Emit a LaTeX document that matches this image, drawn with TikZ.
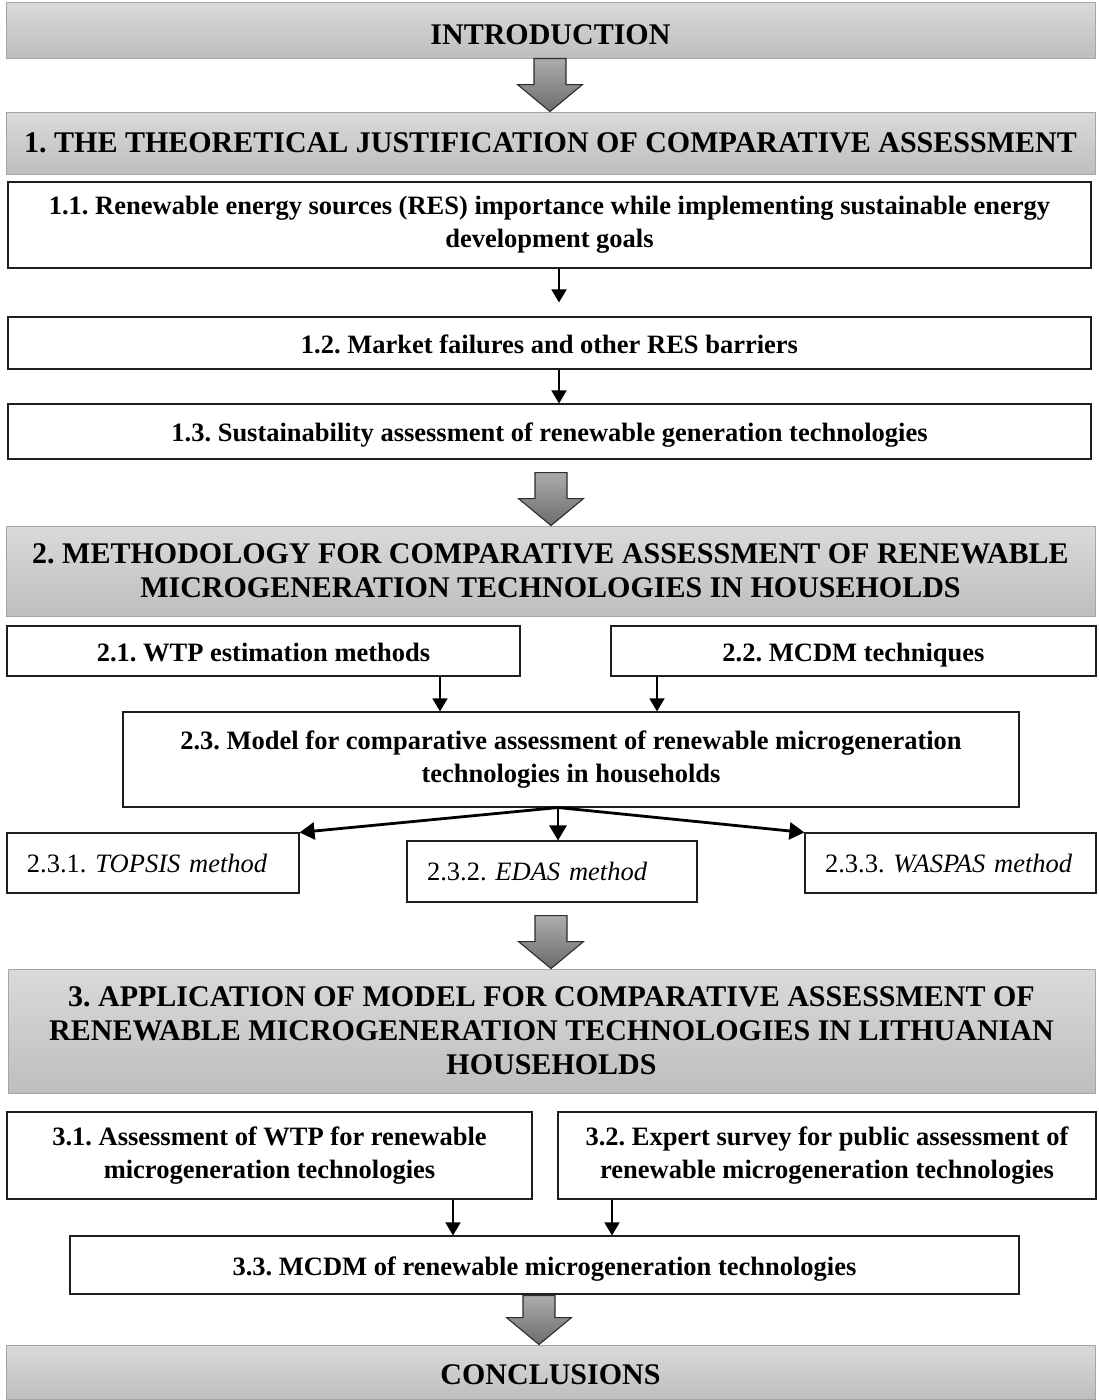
\documentclass[tikz,border=0pt]{standalone}
\usepackage{fontspec}
\setmainfont{Liberation Serif}
\usetikzlibrary{arrows.meta,calc}
\definecolor{hdtop}{RGB}{218,218,218}
\definecolor{hdbot}{RGB}{190,190,190}
\definecolor{hdline}{RGB}{165,165,165}
\definecolor{fattop}{RGB}{172,172,172}
\definecolor{fatbot}{RGB}{108,108,108}
\definecolor{fatline}{RGB}{45,45,45}
\definecolor{boxline}{RGB}{30,30,30}
\newcommand{\fatarr}[4]{%
  \path[fatarrow] let \p1=(#1.south), \p2=(#2.north) in
   (#3pt-16pt,\y1-#4pt) -- (#3pt+16pt,\y1-#4pt) -- (#3pt+16pt,\y2+27pt)
   -- (#3pt+32.5pt,\y2+27pt) -- (#3pt,\y2) -- (#3pt-32.5pt,\y2+27pt)
   -- (#3pt-16pt,\y2+27pt) -- cycle;}
\tikzset{
  hdr/.style={draw=hdline, line width=0.9pt, top color=hdtop, bottom color=hdbot,
    inner sep=0pt, align=center, font=\fontsize{30}{34}\selectfont\bfseries},
  bx/.style={draw=boxline, line width=1.1pt, fill=white, inner sep=0pt,
    align=center, font=\fontsize{26.5}{33}\selectfont\bfseries},
  sl/.style={text height=21pt, text depth=1pt},
  mbx/.style={draw=boxline, line width=1.1pt, fill=white, inner xsep=12pt, inner ysep=0pt,
    align=left, text height=19pt, text depth=1pt, font=\fontsize{26.5}{33}\selectfont},
  fatarrow/.style={draw=fatline, line width=1.1pt, top color=fattop, bottom color=fatbot},
  arr/.style={-{Triangle[length=13pt,width=15pt]}, line width=1.5pt, black},
  tarr/.style={-{Triangle[length=15pt,width=17pt]}, line width=2.8pt, black},
}
\begin{document}
\frenchspacing
\begin{tikzpicture}[x=1pt,y=-1pt]
\useasboundingbox (0,0) rectangle (1098,1400);
% headers
\node[hdr, text height=30pt, text depth=1pt, minimum width=1089, minimum height=56] (intro) at (550.5,30) {INTRODUCTION};
\node[hdr, text height=20pt, text depth=1pt, minimum width=1089, minimum height=62] (h1) at (550.5,143)
  {1. THE THEORETICAL JUSTIFICATION OF COMPARATIVE ASSESSMENT};
\node[hdr, minimum width=1089, minimum height=90] (h2) at (550.5,571)
  {2. METHODOLOGY FOR COMPARATIVE ASSESSMENT OF RENEWABLE\\MICROGENERATION TECHNOLOGIES IN HOUSEHOLDS};
\node[hdr, minimum width=1087, minimum height=124] (h3) at (551.5,1031)
  {3. APPLICATION OF MODEL FOR COMPARATIVE ASSESSMENT OF\\RENEWABLE MICROGENERATION TECHNOLOGIES IN LITHUANIAN\\HOUSEHOLDS};
\node[hdr, text height=26pt, text depth=1pt, minimum width=1089, minimum height=54] (conc) at (550.5,1372) {CONCLUSIONS};
% section 1
\node[bx, minimum width=1083, minimum height=86] (b11) at (549.5,225)
  {1.1. Renewable energy sources (RES) importance while implementing sustainable energy\\development goals};
\node[bx, sl, minimum width=1083, minimum height=52] (b12) at (549.5,343)
  {1.2. Market failures and other RES barriers};
\node[bx, sl, minimum width=1083, minimum height=55] (b13) at (549.5,431.5)
  {1.3. Sustainability assessment of renewable generation technologies};
% section 2
\node[bx, sl, minimum width=513, minimum height=50] (b21) at (263.5,651) {2.1. WTP estimation methods};
\node[bx, sl, minimum width=485, minimum height=50] (b22) at (853.5,651) {2.2. MCDM techniques};
\node[bx, minimum width=896, minimum height=95] (b23) at (571,759.5)
  {2.3. Model for comparative assessment of renewable microgeneration\\technologies in households};
\node[mbx, text width=268pt, minimum height=60] (b231) at (153,863) {\hspace*{8pt}2.3.1. \textit{TOPSIS method}};
\node[mbx, text width=266pt, minimum height=61] (b232) at (552,871.5) {\hspace*{8pt}2.3.2. \textit{EDAS method}};
\node[mbx, text width=267pt, minimum height=60] (b233) at (950.5,863) {\hspace*{8pt}2.3.3. \textit{WASPAS method}};
% section 3
\node[bx, minimum width=525, minimum height=87] (b31) at (269.5,1155.5)
  {3.1. Assessment of WTP for renewable\\microgeneration technologies};
\node[bx, minimum width=538, minimum height=87] (b32) at (827,1155.5)
  {3.2. Expert survey for public assessment of\\renewable microgeneration technologies};
\node[bx, sl, minimum width=949, minimum height=58] (b33) at (544.5,1265)
  {3.3. MCDM of renewable microgeneration technologies};
% helper x positions
\coordinate (xa) at (559,0);
\coordinate (x21) at (440,0);
\coordinate (x22) at (657,0);
\coordinate (xs) at (558,0);
\coordinate (x31) at (453,0);
\coordinate (x32) at (612,0);
\coordinate (split) at (b23.south -| xs);
% thin arrows
\draw[arr, shorten >=14pt] (b11.south -| xa) -- (b12.north -| xa);
\draw[arr] (b12.south -| xa) -- (b13.north -| xa);
\draw[arr] (b21.south -| x21) -- (b23.north -| x21);
\draw[arr] (b22.south -| x22) -- (b23.north -| x22);
\draw[arr] (b31.south -| x31) -- (b33.north -| x31);
\draw[arr] (b32.south -| x32) -- (b33.north -| x32);
% thick arrows
\draw[tarr] (split) -- (b231.north east);
\draw[tarr] (split) -- (b232.north -| split);
\draw[tarr] (split) -- (b233.north west);
% fat arrows
\fatarr{intro}{h1}{550}{0}
\fatarr{b13}{h2}{551}{13}
\fatarr{b232}{h3}{551}{13}
\fatarr{b33}{conc}{539}{1}
\end{tikzpicture}
\end{document}
